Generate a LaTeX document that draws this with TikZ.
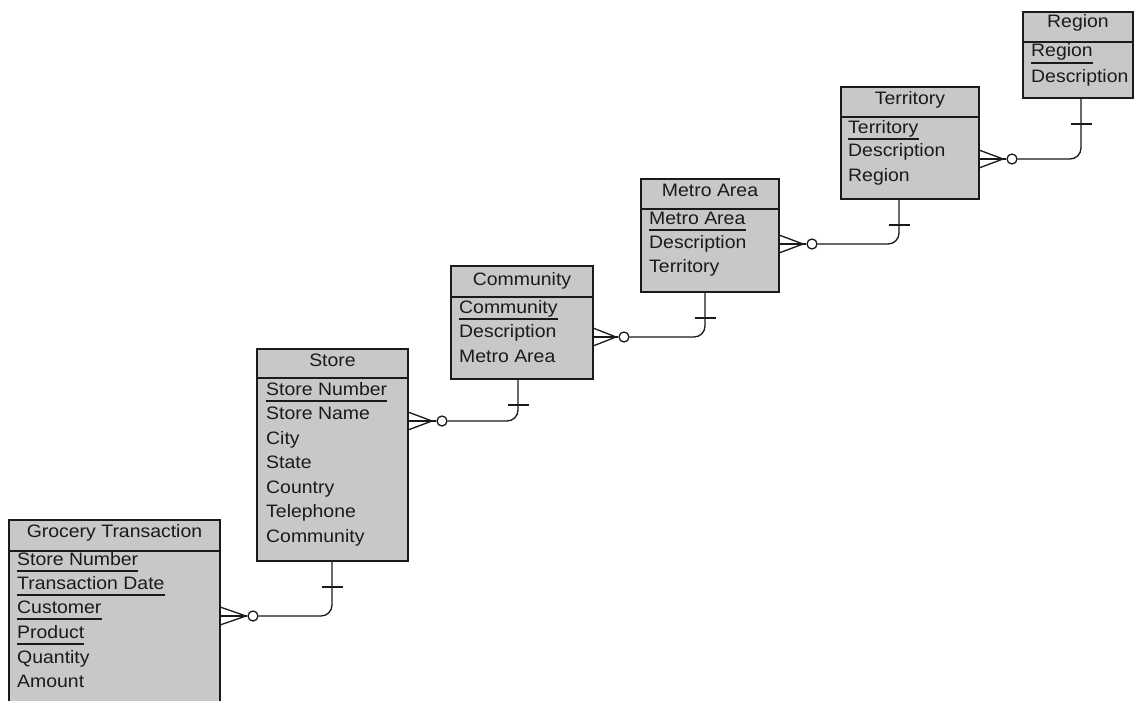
\documentclass[tikz,border=0pt]{standalone}
\usepackage{fontspec}
\setmainfont{Liberation Sans}[FakeStretch=1.08]
\usetikzlibrary{calc}
\definecolor{boxgray}{HTML}{C8C8C8}
\definecolor{ink}{HTML}{1A1A1A}
\newcommand\erkey[4]{\node[attr] (#1) at (#2,#3) {#4};
  \draw[uline] ([yshift=-6pt]#1.base west) -- ([yshift=-6pt]#1.base east);}
\newcommand\errow[4]{\node[attr] (#1) at (#2,#3) {#4};}
\begin{document}
\begin{tikzpicture}[x=1pt,y=-1pt,
  ebox/.style={draw=ink, line width=1.3pt, fill=boxgray, inner sep=0pt, outer sep=0pt, anchor=north west},
  sep/.style={draw=ink, line width=1.3pt},
  attr/.style={anchor=base west, inner sep=0pt, text=ink, font=\fontsize{18}{20}\selectfont},
  ttl/.style={anchor=base, inner sep=0pt, text=ink, font=\fontsize{18}{20}\selectfont},
  uline/.style={draw=ink, line width=1.3pt},
  rel/.style={draw=ink, line width=1.3pt},
  circ/.style={circle, draw=ink, line width=1.3pt, fill=white, minimum size=10pt, inner sep=0pt}]
\fill[white] (0,0) rectangle (1136,701);
\clip (0,0) rectangle (1136,701);

% ---- Grocery Transaction
\node[ebox, minimum width=211pt, minimum height=200pt] (gt) at (9,520) {};
\draw[sep] (9,551) -- (220,551);
\node[ttl] (gt-t) at (114.5,537) {Grocery Transaction};
\erkey{gt1}{17}{565}{Store Number}
\erkey{gt2}{17}{589}{Transaction Date}
\erkey{gt3}{17}{613}{Customer}
\erkey{gt4}{17}{638}{Product}
\errow{gt5}{17}{663}{Quantity}
\errow{gt6}{17}{687}{Amount}

% ---- Store
\node[ebox, minimum width=151pt, minimum height=212pt] (st) at (257,349) {};
\draw[sep] (257,378) -- (408,378);
\node[ttl] (st-t) at (332.5,366) {Store};
\erkey{st1}{266}{395}{Store Number}
\errow{st2}{266}{419}{Store Name}
\errow{st3}{266}{444}{City}
\errow{st4}{266}{468}{State}
\errow{st5}{266}{493}{Country}
\errow{st6}{266}{517}{Telephone}
\errow{st7}{266}{542}{Community}

% ---- Community
\node[ebox, minimum width=142pt, minimum height=113pt] (cm) at (451,266) {};
\draw[sep] (451,297) -- (593,297);
\node[ttl] (cm-t) at (522,285) {Community};
\erkey{cm1}{459}{313}{Community}
\errow{cm2}{459}{337}{Description}
\errow{cm3}{459}{362}{Metro Area}

% ---- Metro Area
\node[ebox, minimum width=138pt, minimum height=113pt] (ma) at (641,179) {};
\draw[sep] (641,209) -- (779,209);
\node[ttl] (ma-t) at (710,196) {Metro Area};
\erkey{ma1}{649}{224}{Metro Area}
\errow{ma2}{649}{248}{Description}
\errow{ma3}{649}{272}{Territory}

% ---- Territory
\node[ebox, minimum width=138pt, minimum height=112pt] (te) at (841,87) {};
\draw[sep] (841,117) -- (979,117);
\node[ttl] (te-t) at (910,104) {Territory};
\erkey{te1}{848}{133}{Territory}
\errow{te2}{848}{157}{Description}
\errow{te3}{848}{181}{Region}

% ---- Region
\node[ebox, minimum width=110pt, minimum height=86pt] (rg) at (1023,12) {};
\draw[sep] (1023,42) -- (1133,42);
\node[ttl] (rg-t) at (1078,28) {Region};
\erkey{rg1}{1031}{57}{Region}
\errow{rg2}{1031}{82}{Description}

% ---- relationship ends
\coordinate (f1) at (332,561);
\coordinate (f2) at (518,379);
\coordinate (f3) at (705,292);
\coordinate (f4) at (899,199);
\coordinate (f5) at (1081,98);

\coordinate (j1) at (246,616);
\coordinate (j2) at (432,421);
\coordinate (j3) at (616,337);
\coordinate (j4) at (803,244);
\coordinate (j5) at (1003,159);

\foreach \b/\j/\f/\cx in {gt/j1/f1/253, st/j2/f2/442, cm/j3/f3/624, ma/j4/f4/812, te/j5/f5/1012}{
  \node[circ] (c-\b) at (\cx,0 |- \j) {};
  \draw[rel] ([yshift=9pt]\b.east |- \j) -- (\j);
  \draw[rel] ([yshift=-9pt]\b.east |- \j) -- (\j);
  \draw[rel] (\b.east |- \j) -- (c-\b.west);
  \draw[rel, rounded corners=11pt] (c-\b.east) -| (\f);
  \draw[rel] ($(\f)+(-10.5,26)$) -- ($(\f)+(10.5,26)$);
}
\end{tikzpicture}
\end{document}
